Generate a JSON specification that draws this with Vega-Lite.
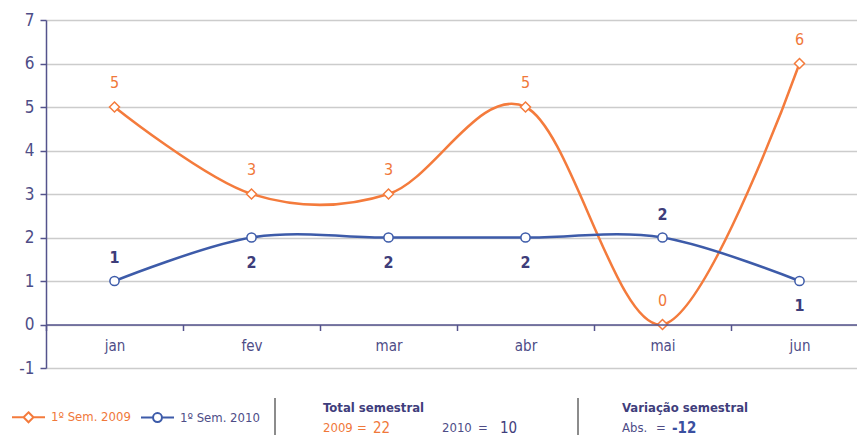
{
  "$schema": "https://vega.github.io/schema/vega-lite/v6.json",
  "padding": {"left": 0, "top": 11, "right": -11, "bottom": 0},
  "background": "white",
  "config": {
    "font": "DejaVu Sans Condensed, sans-serif",
    "view": {"stroke": null},
    "legend": {
      "orient": "none", "legendX": -35, "legendY": 379.5, "direction": "horizontal", "title": null,
      "symbolSize": 1089, "symbolStrokeWidth": 2, "labelFontSize": 13, "labelOffset": 5,
      "columnPadding": 6, "padding": 0,
      "labelFont": "DejaVu Sans Condensed, sans-serif"
    }
  },
  "datasets": {
    "serie": [
      {"mes": "jan", "serie": "1º Sem. 2009", "valor": 5},
      {"mes": "fev", "serie": "1º Sem. 2009", "valor": 3},
      {"mes": "mar", "serie": "1º Sem. 2009", "valor": 3},
      {"mes": "abr", "serie": "1º Sem. 2009", "valor": 5},
      {"mes": "mai", "serie": "1º Sem. 2009", "valor": 0},
      {"mes": "jun", "serie": "1º Sem. 2009", "valor": 6},
      {"mes": "jan", "serie": "1º Sem. 2010", "valor": 1},
      {"mes": "fev", "serie": "1º Sem. 2010", "valor": 2},
      {"mes": "mar", "serie": "1º Sem. 2010", "valor": 2},
      {"mes": "abr", "serie": "1º Sem. 2010", "valor": 2},
      {"mes": "mai", "serie": "1º Sem. 2010", "valor": 2},
      {"mes": "jun", "serie": "1º Sem. 2010", "valor": 1}
    ],
    "rodape": [
      {"bloco": "Total semestral", "rotulo": "2009", "valor": 22},
      {"bloco": "Total semestral", "rotulo": "2010", "valor": 10},
      {"bloco": "Variação semestral", "rotulo": "Abs.", "valor": -12}
    ]
  },
  "spacing": 21,
  "vconcat": [
    {
      "width": 822,
      "height": 348,
      "data": {"name": "serie"},
      "encoding": {
        "x": {
          "field": "mes", "type": "nominal",
          "sort": ["jan", "fev", "mar", "abr", "mai", "jun"],
          "scale": {"type": "band", "paddingInner": 0, "paddingOuter": 0},
          "axis": {
            "title": null, "offset": -43.5, "labelAngle": 0, "grid": false,
            "domainColor": "#54538C", "domainWidth": 1.5,
            "tickColor": "#54538C", "tickWidth": 1.5, "tickSize": 6, "tickBand": "extent",
            "labelColor": "#4E4D87", "labelFontSize": 15, "labelPadding": 8, "zindex": 1
          }
        },
        "y": {
          "field": "valor", "type": "quantitative",
          "scale": {"domain": [-1, 7], "nice": false, "zero": false},
          "axis": {
            "title": null, "values": [-1, 0, 1, 2, 3, 4, 5, 6, 7], "grid": true,
            "labelExpr": "'' + datum.value",
            "gridColor": "#CCCCCC", "gridWidth": 1.5,
            "domainColor": "#54538C", "domainWidth": 1.5,
            "tickColor": "#54538C", "tickWidth": 1.5, "tickSize": 6,
            "labelColor": "#4E4D87", "labelFontSize": 17, "labelPadding": 6,
            "minExtent": 46, "maxExtent": 46
          }
        }
      },
      "layer": [
        {
          "mark": {"type": "line", "interpolate": "cardinal", "strokeWidth": 2.5},
          "encoding": {
            "color": {
              "field": "serie", "type": "nominal",
              "scale": {"domain": ["1º Sem. 2009", "1º Sem. 2010"], "range": ["#F47B3C", "#3D5BA9"]},
              "legend": {
                "encode": {
                  "symbols": {"update": {
                    "shape": {"signal": "datum.value === '1º Sem. 2009' ? 'M-1,0H-0.3M0.3,0H1M0,-0.3L0.3,0L0,0.3L-0.3,0Z' : 'M-1,0H-0.27M0.27,0H1M-0.27,0A0.27,0.27,0,1,0,0.27,0A0.27,0.27,0,1,0,-0.27,0Z'"},
                    "fill": {"value": "white"},
                    "strokeWidth": {"value": 2}
                  }},
                  "labels": {"update": {
                    "fill": {"signal": "datum.value === '1º Sem. 2009' ? '#F0783A' : '#4E4D87'"}
                  }}
                }
              }
            }
          }
        },
        {
          "transform": [{"filter": "datum.serie === '1º Sem. 2009'"}],
          "mark": {"type": "point", "shape": "diamond", "filled": true, "fill": "white", "stroke": "#F47B3C", "opacity": 1, "strokeWidth": 1.5, "size": 100}
        },
        {
          "transform": [{"filter": "datum.serie === '1º Sem. 2010'"}],
          "mark": {"type": "point", "shape": "circle", "filled": true, "fill": "white", "stroke": "#3D5BA9", "opacity": 1, "strokeWidth": 1.5, "size": 85}
        },
        {
          "transform": [{"filter": "datum.serie === '1º Sem. 2009'"}],
          "mark": {"type": "text", "dy": -24, "fontSize": 16, "color": "#F0783A", "baseline": "middle"},
          "encoding": {"text": {"field": "valor", "type": "quantitative", "format": "d"}}
        },
        {
          "transform": [{"filter": "datum.serie === '1º Sem. 2010' && (datum.mes === 'jan' || datum.mes === 'mai')"}],
          "mark": {"type": "text", "dy": -23, "fontSize": 16, "fontWeight": "bold", "color": "#3E3D7A", "baseline": "middle"},
          "encoding": {"text": {"field": "valor", "type": "quantitative", "format": "d"}}
        },
        {
          "transform": [{"filter": "datum.serie === '1º Sem. 2010' && datum.mes !== 'jan' && datum.mes !== 'mai'"}],
          "mark": {"type": "text", "dy": 25, "fontSize": 16, "fontWeight": "bold", "color": "#3E3D7A", "baseline": "middle"},
          "encoding": {"text": {"field": "valor", "type": "quantitative", "format": "d"}}
        }
      ]
    },
    {
      "width": 822,
      "height": 38,
      "data": {"name": "rodape"},
      "encoding": {
        "x": {
          "field": "bloco", "type": "nominal", "bandPosition": 0,
          "sort": ["Total semestral", "Variação semestral"],
          "scale": {"type": "band", "paddingInner": 0.0429, "paddingOuter": 0.3779, "align": 1},
          "axis": null
        }
      },
      "layer": [
        {
          "mark": {"type": "rule", "color": "#8C8C8C", "strokeWidth": 2},
          "encoding": {}
        },
        {
          "transform": [{"filter": "datum.rotulo === '2009'"}],
          "mark": {"type": "text", "align": "left", "baseline": "middle", "dx": 48, "fontSize": 13, "fontWeight": "bold", "color": "#3F3E7C"},
          "encoding": {
            "y": {"datum": "titulo", "type": "nominal", "scale": {"type": "band", "domain": ["titulo", "valor"], "paddingInner": 0, "paddingOuter": 0}, "axis": null},
            "text": {"field": "bloco"}
          }
        },
        {
          "transform": [{"filter": "datum.rotulo === 'Abs.'"}],
          "mark": {"type": "text", "align": "left", "baseline": "middle", "dx": 44, "fontSize": 13, "fontWeight": "bold", "color": "#3F3E7C"},
          "encoding": {
            "y": {"datum": "titulo", "type": "nominal", "scale": {"type": "band", "domain": ["titulo", "valor"], "paddingInner": 0, "paddingOuter": 0}, "axis": null},
            "text": {"field": "bloco"}
          }
        },
        {
          "transform": [{"filter": "datum.rotulo === '2009'"}],
          "layer": [
            {"mark": {"type": "text", "align": "left", "baseline": "middle", "dx": 48, "dy": 1, "fontSize": 13, "color": "#F0783A"}, "encoding": {"text": {"field": "rotulo"}}},
            {"mark": {"type": "text", "align": "left", "baseline": "middle", "dx": 82, "dy": 1, "fontSize": 13, "color": "#F0783A"}, "encoding": {"text": {"value": "="}}},
            {"mark": {"type": "text", "align": "left", "baseline": "middle", "dx": 98, "dy": 1, "fontSize": 15, "color": "#F0783A"}, "encoding": {"text": {"field": "valor", "type": "nominal"}}}
          ],
          "encoding": {
            "y": {"datum": "valor", "type": "nominal", "scale": {"type": "band", "domain": ["titulo", "valor"], "paddingInner": 0, "paddingOuter": 0}, "axis": null}
          }
        },
        {
          "transform": [{"filter": "datum.rotulo === '2010'"}],
          "layer": [
            {"mark": {"type": "text", "align": "left", "baseline": "middle", "dx": 167, "dy": 1, "fontSize": 13, "color": "#4E4D87"}, "encoding": {"text": {"field": "rotulo"}}},
            {"mark": {"type": "text", "align": "left", "baseline": "middle", "dx": 203, "dy": 1, "fontSize": 13, "color": "#4E4D87"}, "encoding": {"text": {"value": "="}}},
            {"mark": {"type": "text", "align": "left", "baseline": "middle", "dx": 225, "dy": 1, "fontSize": 15, "color": "#3F3E7C"}, "encoding": {"text": {"field": "valor", "type": "nominal"}}}
          ],
          "encoding": {
            "y": {"datum": "valor", "type": "nominal", "scale": {"type": "band", "domain": ["titulo", "valor"], "paddingInner": 0, "paddingOuter": 0}, "axis": null}
          }
        },
        {
          "transform": [{"filter": "datum.rotulo === 'Abs.'"}],
          "layer": [
            {"mark": {"type": "text", "align": "left", "baseline": "middle", "dx": 44, "dy": 1, "fontSize": 13, "color": "#4E4D87"}, "encoding": {"text": {"field": "rotulo"}}},
            {"mark": {"type": "text", "align": "left", "baseline": "middle", "dx": 78, "dy": 1, "fontSize": 13, "color": "#4E4D87"}, "encoding": {"text": {"value": "="}}},
            {"mark": {"type": "text", "align": "left", "baseline": "middle", "dx": 94, "dy": 1, "fontSize": 15, "fontWeight": "bold", "color": "#3A4FA0"}, "encoding": {"text": {"field": "valor", "type": "nominal"}}}
          ],
          "encoding": {
            "y": {"datum": "valor", "type": "nominal", "scale": {"type": "band", "domain": ["titulo", "valor"], "paddingInner": 0, "paddingOuter": 0}, "axis": null}
          }
        }
      ]
    }
  ]
}
